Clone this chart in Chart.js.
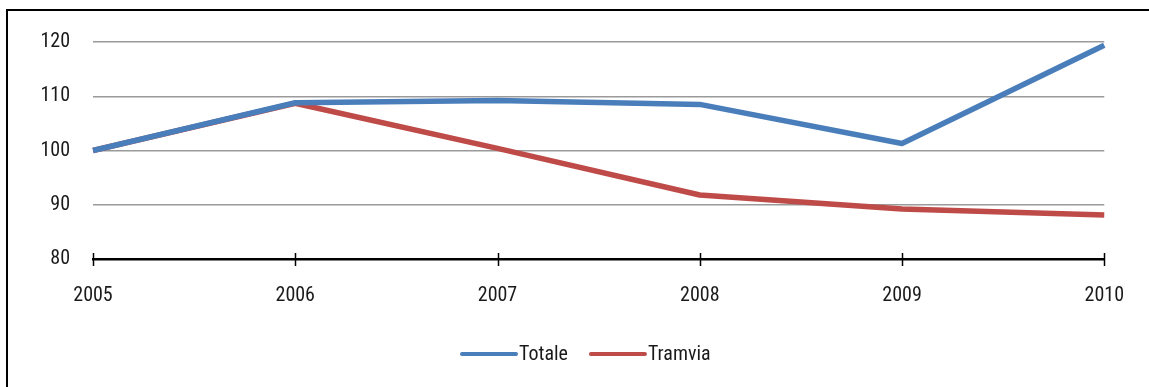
<!DOCTYPE html>
<html>
<head>
<meta charset="utf-8">
<script src="https://cdn.jsdelivr.net/npm/chart.js@4.4.1/dist/chart.umd.min.js"></script>
<style>
  html, body { margin: 0; padding: 0; background: #fff; overflow: hidden; }
  #wrap { position: relative; width: 1149px; height: 387px; }
  #frame { position: absolute; left: 6px; top: 9px; width: 1200px; height: 500px;
           border: 2.5px solid #000; box-sizing: border-box; pointer-events: none; }
  canvas { position: absolute; left: 0; top: 0; }
</style>
</head>
<body>
<div id="wrap">
  <canvas id="c" width="1149" height="387"></canvas>
  <div id="frame"></div>
</div>
<script>
// Index values (2005 = 100)
const years = ['2005', '2006', '2007', '2008', '2009', '2010'];
const totale = [100, 108.8, 109.2, 108.5, 101.3, 119.4];
const tramvia = [100, 108.7, 100.4, 91.8, 89.2, 88.1];
const yTicks = [80, 90, 100, 110, 120];

const FONT = "'Roboto Condensed', 'Liberation Sans Narrow', 'Arial Narrow', sans-serif";
const FONT_SIZE = 20;
const TEXT = '#1a1a1a';

// Small tick marks crossing the category axis
const axisTicks = {
  id: 'axisTicks',
  afterDatasetsDraw(chart) {
    const { ctx, scales: { x }, chartArea } = chart;
    ctx.save();
    ctx.strokeStyle = '#000';
    ctx.lineWidth = 1.5;
    years.forEach((_, i) => {
      const px = Math.round(x.getPixelForValue(i)) + 0.5;
      ctx.beginPath();
      ctx.moveTo(px, chartArea.bottom - 6);
      ctx.lineTo(px, chartArea.bottom + 7);
      ctx.stroke();
    });
    ctx.restore();
  }
};

// Legend drawn as line swatches under the axis
const lineLegend = {
  id: 'lineLegend',
  afterDraw(chart) {
    const { ctx } = chart;
    ctx.save();
    ctx.font = FONT_SIZE + 'px ' + FONT;
    ctx.textBaseline = 'middle';
    let x = 462;
    const y = 354;
    chart.data.datasets.forEach(ds => {
      ctx.strokeStyle = ds.borderColor;
      ctx.lineWidth = 4;
      ctx.lineCap = 'round';
      ctx.beginPath();
      ctx.moveTo(x, y);
      ctx.lineTo(x + 54, y);
      ctx.stroke();
      ctx.fillStyle = TEXT;
      ctx.fillText(ds.label, x + 57, y + 1);
      x += 57 + ctx.measureText(ds.label).width + 23;
    });
    ctx.restore();
  }
};

new Chart(document.getElementById('c'), {
  type: 'line',
  data: {
    labels: years,
    datasets: [
      { label: 'Totale', data: totale, borderColor: '#4A7EBB', borderWidth: 5.5,
        pointRadius: 0, tension: 0, borderJoinStyle: 'round', borderCapStyle: 'butt' },
      { label: 'Tramvia', data: tramvia, borderColor: '#BE4B48', borderWidth: 5.5,
        pointRadius: 0, tension: 0, borderJoinStyle: 'round', borderCapStyle: 'butt' }
    ]
  },
  options: {
    responsive: false,
    animation: false,
    events: [],
    layout: { padding: { top: 42, right: 43, left: 0, bottom: 0 } },
    plugins: { legend: { display: false }, tooltip: { enabled: false } },
    scales: {
      x: {
        offset: false,
        grid: { display: true, drawOnChartArea: false, drawTicks: false },
        border: { display: true, color: '#000', width: 2.5 },
        ticks: { color: TEXT, font: { family: FONT, size: FONT_SIZE }, padding: 25, maxRotation: 0 },
        afterFit(s) { s.height = 128; }
      },
      y: {
        min: 80, max: 120,
        afterBuildTicks(s) { s.ticks = yTicks.map(v => ({ value: v })); },
        grid: {
          drawTicks: false,
          color: ctx => ctx.tick && ctx.tick.value === 80 ? 'rgba(0,0,0,0)' : '#9a9a9a',
          lineWidth: 1.5
        },
        border: { display: false },
        ticks: { color: TEXT, font: { family: FONT, size: FONT_SIZE }, padding: 23 },
        afterFit(s) { s.width = 93; }
      }
    }
  },
  plugins: [axisTicks, lineLegend]
});
</script>
</body>
</html>
